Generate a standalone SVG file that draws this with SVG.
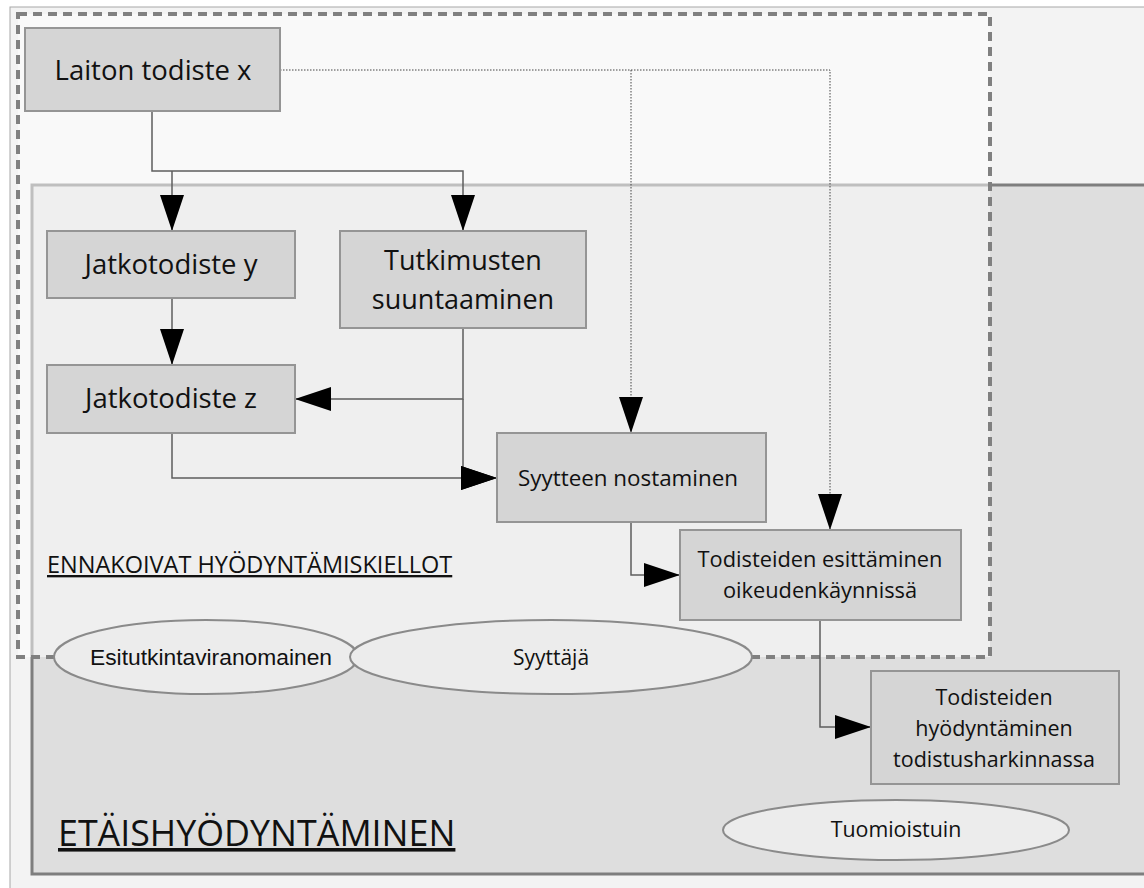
<svg xmlns="http://www.w3.org/2000/svg" width="1144" height="888" viewBox="0 0 1144 888">
<defs>
<style>
.box{fill:#d5d5d5;stroke:#959595;stroke-width:2}
.ell{fill:#ececec;stroke:#8a8a8a;stroke-width:2}
.t{font-family:"Open Sans","Noto Sans",sans-serif;fill:#111;text-anchor:middle}
.ta{font-family:"Liberation Sans",Arial,sans-serif;fill:#111;text-anchor:middle}
.st{text-anchor:start}
.ln{fill:none;stroke:#5e5e5e;stroke-width:1.5}
.dot{fill:none;stroke:#444;stroke-width:1;stroke-dasharray:1.5 1.5}
</style>
<marker id="ah" viewBox="0 0 36 24" refX="36" refY="12" markerWidth="36" markerHeight="24" markerUnits="userSpaceOnUse" orient="auto">
<path d="M0,0 L36,12 L0,24 Z" fill="#000"/>
</marker>
</defs>
<rect width="1144" height="888" fill="#ffffff"/>
<g id="background">
<rect x="10" y="7" width="1150" height="900" fill="#f3f3f3" stroke="#a8a8a8" stroke-width="1"/>
<rect x="32" y="185" width="1130" height="689" fill="#dedede" stroke="#7e7e7e" stroke-width="3"/>
<rect x="18" y="14" width="972" height="643" fill="#ffffff" fill-opacity="0.5" stroke="#808080" stroke-width="4" stroke-dasharray="9 6"/>
</g>
<g id="connectors">
<polyline class="ln" points="152,111 152,171 463,171 463,231" marker-end="url(#ah)"/>
<polyline class="ln" points="172,171 172,231" marker-end="url(#ah)"/>
<polyline class="ln" points="172,298 172,365" marker-end="url(#ah)"/>
<polyline class="ln" points="463,328 463,399 295,399" marker-end="url(#ah)"/>
<polyline class="ln" points="463,399 463,478 497,478" marker-end="url(#ah)"/>
<polyline class="ln" points="172,433 172,478 497,478" marker-end="url(#ah)"/>
<polyline class="ln" points="631,522 631,575 680,575" marker-end="url(#ah)"/>
<polyline class="ln" points="820,620 820,727 871,727" marker-end="url(#ah)"/>
<polyline class="dot" points="280,70 830,70 830,530" marker-end="url(#ah)"/>
<polyline class="dot" points="631,70 631,433" marker-end="url(#ah)"/>
</g>
<g id="laiton">
<rect class="box" x="25" y="28" width="255" height="83"/>
<text class="t" x="153" y="80" font-size="27.5">Laiton todiste x</text>
</g>
<g id="jatko-y">
<rect class="box" x="47" y="231" width="248" height="67"/>
<text class="t" x="171" y="274" font-size="27.5">Jatkotodiste y</text>
</g>
<g id="tutkimusten">
<rect class="box" x="340" y="231" width="246" height="97"/>
<text class="t" x="463" y="270" font-size="27">Tutkimusten</text>
<text class="t" x="463" y="309" font-size="27">suuntaaminen</text>
</g>
<g id="jatko-z">
<rect class="box" x="47" y="365" width="248" height="68"/>
<text class="t" x="171" y="408" font-size="27.5">Jatkotodiste z</text>
</g>
<g id="syytteen">
<rect class="box" x="497" y="433" width="269" height="89"/>
<text class="t" x="628" y="486" font-size="22.4">Syytteen nostaminen</text>
</g>
<g id="esittaminen">
<rect class="box" x="680" y="530" width="281" height="90"/>
<text class="t" x="820" y="567" font-size="21.8">Todisteiden esittäminen</text>
<text class="t" x="820" y="598" font-size="21.8">oikeudenkäynnissä</text>
</g>
<g id="hyodyntaminen">
<rect class="box" x="871" y="671" width="248" height="113"/>
<text class="t" x="994" y="705" font-size="21.5">Todisteiden</text>
<text class="t" x="994" y="736" font-size="21.5">hyödyntäminen</text>
<text class="t" x="994" y="767" font-size="21.5">todistusharkinnassa</text>
</g>
<g id="esitutkinta">
<ellipse class="ell" cx="206" cy="657" rx="152" ry="37"/>
<text class="ta" x="211" y="665" font-size="22.8">Esitutkintaviranomainen</text>
</g>
<g id="syyttaja">
<ellipse class="ell" cx="551" cy="657" rx="201" ry="37"/>
<text class="t" x="551" y="665" font-size="21">Syyttäjä</text>
</g>
<g id="tuomioistuin">
<ellipse class="ell" cx="896" cy="830" rx="173" ry="30"/>
<text class="t" x="896" y="837" font-size="21.4">Tuomioistuin</text>
</g>
<g id="labels">
<text class="t st" x="47" y="573" font-size="23.5" text-decoration="underline">ENNAKOIVAT HYÖDYNTÄMISKIELLOT</text>
<text class="t st" x="58" y="846" font-size="35.8" text-decoration="underline">ETÄISHYÖDYNTÄMINEN</text>
</g>
</svg>
